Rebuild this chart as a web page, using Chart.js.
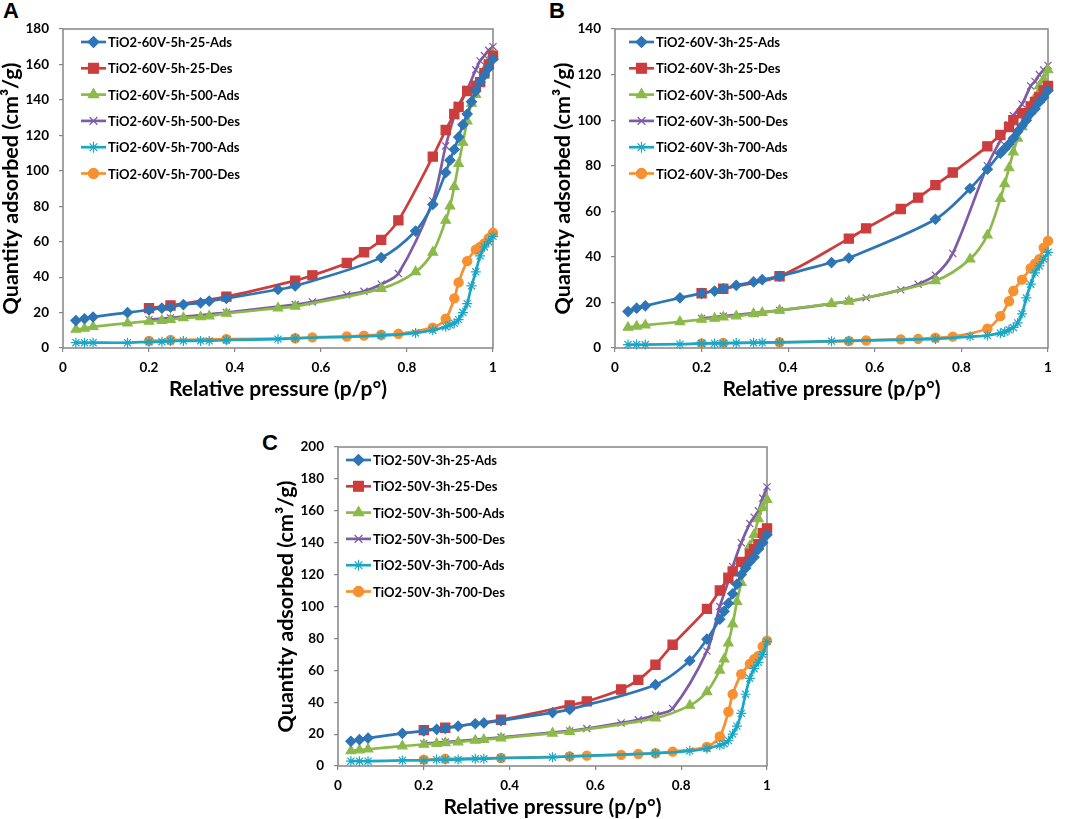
<!DOCTYPE html>
<html>
<head>
<meta charset="utf-8">
<script src="https://cdn.jsdelivr.net/npm/chart.js@4.4.1/dist/chart.umd.min.js"></script>
<style>
  html, body { margin: 0; padding: 0; background: #fff; overflow: hidden; }
  body { width: 1065px; height: 819px; position: relative; font-family: Lato, 'Liberation Sans', sans-serif; }
  canvas { position: absolute; }
  .tag { position: absolute; font-weight: bold; font-size: 22px; font-family: 'Liberation Sans', Arial, sans-serif; line-height: 1; }
</style>
</head>
<body>
<div class="tag" style="left:3px;top:0px">A</div>
<div class="tag" style="left:549px;top:0px">B</div>
<div class="tag" style="left:262px;top:432px">C</div>
<canvas id="chartA" width="530" height="400" style="left:0px;top:0px"></canvas>
<canvas id="chartB" width="513" height="400" style="left:552px;top:0px"></canvas>
<canvas id="chartC" width="540" height="400" style="left:275px;top:418px"></canvas>
<script>
// relative pressure points (adsorption branch goes up, desorption comes back down)
const adsX = [0.03, 0.05, 0.07, 0.15, 0.2, 0.23, 0.25, 0.28, 0.32, 0.34, 0.38, 0.5, 0.54, 0.74,
              0.82, 0.86, 0.89, 0.9, 0.91, 0.92, 0.93, 0.94, 0.95, 0.96, 0.97, 0.98, 0.99, 1.0];
const desX = [1.0, 0.99, 0.98, 0.97, 0.96, 0.94, 0.92, 0.91, 0.89, 0.86, 0.78, 0.74, 0.70, 0.66,
              0.58, 0.54, 0.38, 0.25, 0.20];

// panel A: TiO2-60V-5h
const aAds25  = [15.5, 16.5, 17.5, 20, 21.5, 22.5, 23, 24.5, 25.5, 26.5, 28, 33, 35, 51, 66, 81, 99, 106, 112, 119, 126, 132, 139, 145, 150, 154, 158, 163];
const aDes25  = [165, 160, 155, 150, 148, 145, 136, 132, 123, 108, 72, 61, 54, 48, 41, 38, 29, 24, 22.5];
const aAds500 = [10.5, 11, 12, 14, 15, 15.5, 16, 17, 17.5, 18, 19.5, 22.5, 23.5, 33.5, 43, 54, 72, 80, 91, 104, 116, 128, 138, 143, 150, 157, 162, 166];
const aDes500 = [170, 168, 165, 162, 157, 146, 137, 131, 114, 83, 42, 36, 32, 30, 26, 24.5, 20, 17, 16];
const aAds700 = [3, 3, 3, 3, 3.5, 3.5, 4, 4, 4, 4, 4.5, 5, 5.5, 7, 8.5, 10, 12, 13, 14, 16, 20, 25, 35, 43, 52, 57, 60, 63];
const aDes700 = [65, 62, 59, 57, 55.5, 49, 37, 28, 16.5, 11.5, 8, 7.5, 7, 6.5, 6, 5.5, 5, 4.5, 4];

// panel B: TiO2-60V-3h
const bAds25  = [16, 17.5, 18.5, 22, 24, 25, 26, 27.5, 29, 30, 31.5, 37.5, 39.5, 56.5, 70, 78.5, 85.5, 87.5, 89.5, 92, 95, 97.5, 100, 103, 105, 108, 110, 113];
const bDes25  = [115, 113, 110, 108, 106, 103, 100, 97, 93.5, 88.5, 77, 71.5, 66, 61, 52.5, 48, 31.5, 26, 24];
const bAds500 = [9, 9.5, 10, 11.5, 12.5, 13, 13.5, 14, 15, 15.5, 16.5, 19.5, 20.5, 29.5, 39, 49.5, 65.5, 72, 79, 86, 92, 97, 102, 106, 110, 115, 118, 122];
const bDes500 = [124, 122, 120, 117, 115, 107, 102, 98, 91, 80, 41.5, 32, 28, 25.5, 22, 20.5, 16.5, 14, 13];
const bAds700 = [1.5, 1.5, 1.5, 1.7, 2, 2, 2, 2.2, 2.3, 2.4, 2.5, 3, 3.2, 4, 5, 5.5, 6.5, 7, 8, 9, 11, 15, 22, 28, 33, 36, 39, 42];
const bDes700 = [47, 44, 39, 37, 35, 30, 25, 20.5, 14, 8.5, 5, 4.5, 4, 3.8, 3.3, 3, 2.5, 2.2, 2];

// panel C: TiO2-50V-3h
const cAds25  = [15.5, 16.5, 17.5, 20.5, 22, 23, 23.5, 25, 26.5, 27, 28.5, 33.5, 35.5, 51, 66, 79.5, 92, 97, 102, 108, 114, 120, 124, 128, 131, 136, 140, 145];
const cDes25  = [149, 146, 139, 136, 133, 128, 122, 118, 110, 98.5, 76, 63.5, 54, 48, 40.5, 38, 29, 24, 22.5];
const cAds500 = [9.5, 10, 10.5, 12.5, 13.5, 14, 14.5, 15, 16, 16.5, 17.5, 20.5, 21.5, 30, 38, 46.5, 60, 67, 77, 89, 103, 115, 128, 138, 145, 155, 162, 167];
const cDes500 = [175, 168, 160, 156, 152, 140, 125, 116, 100, 72, 36, 32, 29, 27, 23.5, 22, 18, 15, 14];
const cAds700 = [3, 3, 3, 3.5, 3.5, 4, 4, 4, 4.5, 4.5, 5, 5.5, 6, 8, 9.5, 11, 13, 14, 16, 20, 25, 33, 45, 55, 61, 65, 70, 78];
const cDes700 = [78.5, 75, 69, 67, 64, 57.5, 45, 34, 18.5, 12, 9, 8, 7.5, 7, 6.5, 6, 5, 4.5, 4];

const seriesSuffix = ['25-Ads', '25-Des', '500-Ads', '500-Des', '700-Ads', '700-Des'];
const colors = ['#2e75b6', '#cc3d3d', '#8cba4a', '#7d5ba6', '#1aa6c6', '#f79030'];
const styles = ['rectRot', 'rect', 'triangle', 'crossRot', 'star', 'circle'];
const radii = [5, 6.5, 5.5, 5, 5, 4.6];

const FONT = 'Lato, "Liberation Sans", sans-serif';

function pairs(xs, ys) {
    return ys.map((y, i) => ({ x: xs[i], y: y }));
}

// frame around the plot area, drawn before the lines
const frame = {
    id: 'frame',
    beforeDatasetsDraw(chart) {
        const a = chart.chartArea, ctx = chart.ctx;
        ctx.save();
        ctx.strokeStyle = '#858585';
        ctx.lineWidth = 1.5;
        ctx.strokeRect(a.left, a.top, a.right - a.left, a.bottom - a.top);
        ctx.restore();
    }
};

// Excel style legend sitting inside the top-left of the plot
const insideLegend = {
    id: 'insideLegend',
    afterDraw(chart, args, opts) {
        const a = chart.chartArea, ctx = chart.ctx;
        ctx.save();
        ctx.font = 'bold 13px ' + FONT;
        ctx.textBaseline = 'middle';
        chart.data.datasets.forEach((ds, i) => {
            const y = a.top + opts.top + i * 26.3;
            const x0 = a.left + opts.left;
            ctx.strokeStyle = ds.borderColor;
            ctx.fillStyle = ds.borderColor;
            ctx.lineWidth = 2.7;
            ctx.beginPath();
            ctx.moveTo(x0, y);
            ctx.lineTo(x0 + 25, y);
            ctx.stroke();
            ctx.lineWidth = 1.2;
            Chart.helpers.drawPoint(ctx, {
                pointStyle: ds.pointStyle, rotation: 0, radius: ds.pointRadius + 0.5, borderWidth: 1.2
            }, x0 + 12.5, y);
            ctx.fillStyle = '#000';
            ctx.fillText(ds.label, x0 + 27, y + 1);
        });
        ctx.restore();
    }
};

function makeChart(id, prefix, ys, yMax, padRight, legendLeft) {
    const datasets = ys.map((vals, i) => ({
        label: prefix + seriesSuffix[i],
        data: pairs(i % 2 === 0 ? adsX : desX, vals),
        borderColor: colors[i],
        backgroundColor: colors[i],
        pointBackgroundColor: colors[i],
        pointBorderColor: colors[i],
        pointStyle: styles[i],
        pointRadius: radii[i],
        pointBorderWidth: 1.2,
        borderWidth: 2.7,
        showLine: true,
        tension: 0.3,
        fill: false,
        clip: false,
        order: i
    }));

    // outward tick marks only, no grid lines inside the plot
    const tickGrid = { display: true, drawOnChartArea: false, drawTicks: true, tickLength: 4, color: '#858585', lineWidth: 1.2 };

    new Chart(document.getElementById(id), {
        type: 'scatter',
        data: { datasets },
        options: {
            responsive: false,
            animation: false,
            events: [],
            layout: { padding: { top: 29, right: padRight, left: 0, bottom: 0 } },
            plugins: {
                legend: { display: false },
                tooltip: { enabled: false },
                insideLegend: { left: legendLeft, top: 13 }
            },
            scales: {
                x: {
                    type: 'linear',
                    min: 0, max: 1,
                    grid: tickGrid,
                    border: { display: false },
                    ticks: {
                        stepSize: 0.2,
                        padding: 8,
                        color: '#000',
                        font: { family: FONT, size: 13.5, weight: 'bold' },
                        callback: v => String(Number(v.toFixed(1)))
                    },
                    title: {
                        display: true,
                        text: 'Relative pressure (p/p°)',
                        color: '#000',
                        padding: 0,
                        font: { family: FONT, size: 21, weight: 'bold', lineHeight: 1 }
                    },
                    afterFit(scale) { scale.height = 52; }
                },
                y: {
                    min: 0, max: yMax,
                    grid: tickGrid,
                    border: { display: false },
                    ticks: {
                        stepSize: 20,
                        padding: 10,
                        color: '#000',
                        font: { family: FONT, size: 13.5, weight: 'bold' }
                    },
                    title: {
                        display: true,
                        text: 'Quantity adsorbed (cm³/g)',
                        color: '#000',
                        padding: 0,
                        font: { family: FONT, size: 21.5, weight: 'bold', lineHeight: 1 }
                    },
                    afterFit(scale) { scale.width = 63; }
                }
            }
        },
        plugins: [frame, insideLegend]
    });
}

makeChart('chartA', 'TiO2-60V-5h-', [aAds25, aDes25, aAds500, aDes500, aAds700, aDes700], 180, 37, 18);
makeChart('chartB', 'TiO2-60V-3h-', [bAds25, bDes25, bAds500, bDes500, bAds700, bDes700], 140, 17, 14);
makeChart('chartC', 'TiO2-50V-3h-', [cAds25, cDes25, cAds500, cDes500, cAds700, cDes700], 200, 48, 8);
</script>
</body>
</html>
